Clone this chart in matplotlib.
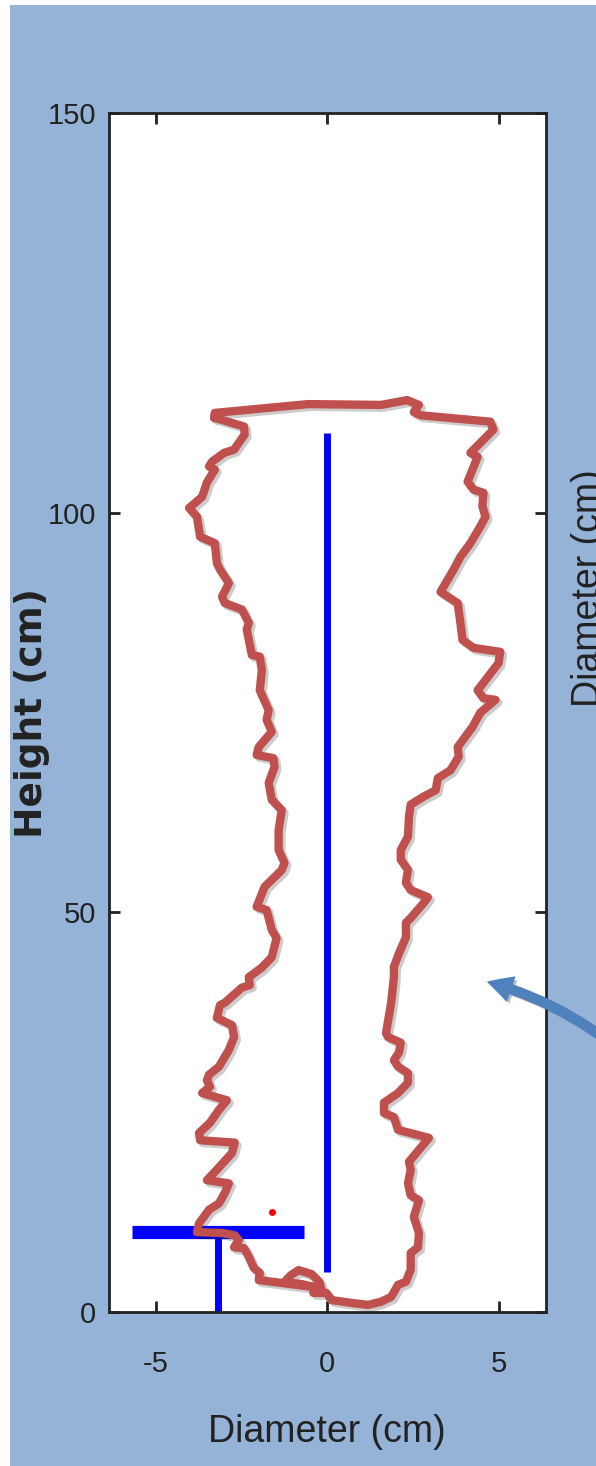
import matplotlib
matplotlib.use("Agg")
import matplotlib.pyplot as plt
import matplotlib.patheffects as pe
from matplotlib.patches import Rectangle, FancyArrowPatch

# contour of the trunk profile (diameter cm, height cm)
contour_x = [-3.30, -3.28, -0.56, 1.57, 2.32, 2.67, 2.52, 2.72, 4.75, 4.84, 4.17, 4.38, 4.09, 4.26, 4.55,
             4.52, 4.61, 4.46, 4.17, 3.88, 3.68, 3.30, 3.80, 3.88, 3.94, 4.26, 5.04, 4.99, 4.38, 4.55,
             4.90, 4.46, 4.23, 3.80, 3.83, 3.59, 3.22, 3.16, 2.81, 2.43, 2.38, 2.35, 2.14, 2.14, 2.35,
             2.29, 2.43, 2.93, 2.81, 2.43, 2.29, 2.29, 2.09, 1.94, 1.94, 1.86, 1.71, 1.77, 2.14, 2.09,
             1.94, 2.06, 2.35, 2.35, 2.06, 1.65, 1.65, 1.94, 2.06, 2.96, 2.67, 2.38, 2.43, 2.35, 2.43,
             2.67, 2.52, 2.67, 2.64, 2.43, 2.43, 2.29, 2.06, 1.86, 1.57, 1.19, 0.78, 0.12, -0.03, -0.41,
             -0.17, -0.23, -0.46, -0.84, -1.07, -1.25, -0.75, -0.35, -1.25, -2.00, -1.97, -2.14, -2.29, -2.43, -2.72,
             -2.58, -2.70, -3.07, -3.80, -3.74, -3.45, -3.16, -2.99, -2.87, -3.51, -3.16, -2.78, -2.70, -3.71, -3.74,
             -3.42, -3.16, -2.93, -3.65, -3.42, -3.51, -3.45, -3.16, -2.87, -2.72, -2.78, -3.22, -3.13, -2.99, -2.49,
             -2.26, -2.29, -1.91, -1.62, -1.48, -1.62, -1.77, -2.06, -1.83, -1.33, -1.25, -1.42, -1.42, -1.33, -1.62,
             -1.71, -1.54, -1.57, -2.06, -2.00, -1.62, -1.77, -1.71, -1.97, -1.91, -1.97, -2.20, -2.35, -2.29, -2.49,
             -2.99, -3.07, -2.87, -3.13, -3.22, -3.28, -3.71, -3.80, -4.03, -3.65, -3.51, -3.28, -3.45, -3.36, -3.01,
             -2.72, -2.41, -2.43, -3.30]
contour_y = [111.9, 112.5, 113.6, 113.5, 114.1, 113.5, 112.6, 112.2, 111.4, 110.4, 107.5, 107.0, 103.9, 102.9, 102.5,
             100.8, 99.5, 98.3, 96.2, 94.5, 92.9, 90.1, 88.7, 86.2, 84.1, 83.1, 82.6, 81.2, 77.8, 76.8,
             76.6, 75.0, 73.2, 70.7, 69.5, 67.8, 66.8, 65.3, 64.5, 63.5, 62.0, 59.5, 57.8, 56.6, 55.3,
             53.7, 52.8, 51.9, 51.2, 49.3, 48.7, 46.9, 44.9, 43.2, 41.9, 38.7, 34.9, 34.4, 33.7, 32.5,
             31.5, 30.7, 29.9, 28.7, 27.4, 26.2, 24.9, 24.4, 22.8, 21.8, 20.3, 18.8, 17.8, 16.1, 14.6,
             14.0, 11.9, 9.9, 8.1, 7.4, 5.3, 3.8, 3.4, 1.9, 1.3, 0.9, 1.1, 1.5, 2.4, 2.4,
             2.75, 3.75, 4.75, 5.25, 4.6, 3.75, 3.5, 3.1, 3.6, 4.0, 4.9, 5.5, 6.9, 8.0, 8.1,
             9.0, 9.6, 9.9, 10.0, 11.1, 12.8, 13.6, 14.9, 16.1, 16.5, 18.1, 19.9, 21.2, 21.5, 22.4,
             23.7, 25.3, 26.5, 27.4, 28.2, 29.0, 29.7, 30.7, 32.8, 34.4, 35.9, 36.8, 38.4, 38.7, 40.6,
             40.9, 41.9, 43.1, 44.4, 46.8, 47.8, 50.3, 50.7, 53.2, 55.3, 56.2, 57.8, 60.3, 62.8, 64.1,
             66.2, 68.2, 69.3, 69.7, 70.7, 72.6, 74.1, 75.3, 77.8, 80.3, 82.0, 82.2, 85.4, 86.2, 87.9,
             88.7, 89.5, 91.2, 92.9, 93.7, 96.2, 97.0, 99.5, 100.6, 102.0, 103.8, 105.4, 105.8, 106.4, 107.5,
             107.9, 109.8, 110.8, 111.9]

# blue reference lines
stem_x = [0, 0]
stem_y = [5, 110]
bar_x = [-5.7, -0.69]
bar_y = [10, 10]
post_x = [-3.18, -3.18]
post_y = [0, 10]
dot_x, dot_y = -1.61, 12.5

xticks = [-5, 0, 5]
yticks = [0, 50, 100, 150]

plt.rcParams['font.family'] = ['Liberation Sans Narrow', 'Liberation Sans', 'DejaVu Sans']
plt.rcParams['axes.unicode_minus'] = False

fig = plt.figure(figsize=(5.96, 14.66), dpi=100)
fig.patch.set_facecolor('white')
fig.add_artist(Rectangle((10 / 596, 0), 1, 1 - 5 / 1466, transform=fig.transFigure,
                         facecolor='#95b3d7', edgecolor='none', zorder=-1))

ax = fig.add_axes([0.1826, 0.1050, 0.7333, 0.8178])
ax.set_facecolor('white')

ax.plot(stem_x, stem_y, color='#0000ff', lw=5, solid_capstyle='butt')
ax.plot(bar_x, bar_y, color='#0000ff', lw=9.5, solid_capstyle='butt')
ax.plot(post_x, post_y, color='#0000ff', lw=5, solid_capstyle='butt')
ax.plot([dot_x], [dot_y], 'o', color='red', ms=5, mec='none')

ax.plot(contour_x, contour_y, color='#c0504d', lw=6, solid_joinstyle='round',
        solid_capstyle='round', clip_on=False,
        path_effects=[pe.SimpleLineShadow(offset=(2, -2), shadow_color='k', alpha=0.2), pe.Normal()])

ax.set_xlim(-6.37, 6.37)
ax.set_ylim(0, 150)
ax.set_xticks(xticks)
ax.set_yticks(yticks)
ax.tick_params(direction='in', length=8, width=2, color='#222222', labelcolor='#222222',
               labelsize=21, top=True, right=True)
ax.tick_params(axis='x', pad=27)
ax.tick_params(axis='y', pad=9)
for s in ax.spines.values():
    s.set_linewidth(2)
    s.set_color('#222222')

ax.set_xlabel('Diameter (cm)', fontsize=27, color='#222222')
ax.xaxis.set_label_coords(0.5, -0.085)
ax.set_ylabel('Height (cm)', fontsize=27, fontweight='bold', color='#222222',
              family=['DejaVu Sans'], va='center')
ax.yaxis.set_label_coords(-0.175, 0.5)

# clipped label from the neighbouring panel
fig.text(571 / 596, 1 - 588 / 1466, 'Diameter (cm)', rotation=90, fontsize=27,
         color='#222222', ha='left', va='center')

arrow = FancyArrowPatch((660 / 596, 1 - 1090 / 1466), (488 / 596, 1 - 982 / 1466),
                        transform=fig.transFigure, connectionstyle='arc3,rad=0.15',
                        arrowstyle='simple,head_length=1.7,head_width=1.8,tail_width=0.65',
                        mutation_scale=10, color='#4f81bd', shrinkA=0, shrinkB=0, zorder=5,
                        path_effects=[pe.SimplePatchShadow(offset=(2, -2), alpha=0.3), pe.Normal()])
fig.add_artist(arrow)

fig.savefig('out.png', dpi=100)
